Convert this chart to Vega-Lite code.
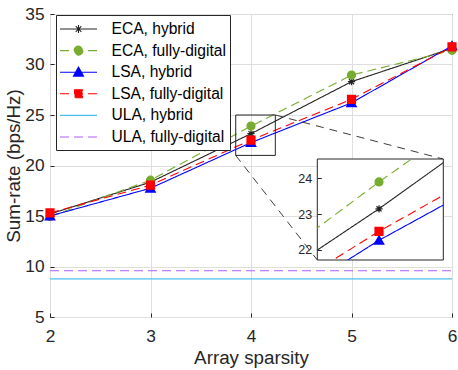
{
  "$schema": "https://vega.github.io/schema/vega-lite/v6.json",
  "width": 402,
  "height": 303,
  "autosize": {"type": "none"},
  "padding": {"left": 50, "top": 14, "right": 6, "bottom": 53},
  "config": {
    "font": "Liberation Sans",
    "view": {"stroke": "#262626", "strokeWidth": 1}
  },
  "datasets": {
    "series": [
      {"series": "ECA, hybrid", "x": 2, "y": 15.2},
      {"series": "ECA, hybrid", "x": 3, "y": 18.35},
      {"series": "ECA, hybrid", "x": 4, "y": 23.15},
      {"series": "ECA, hybrid", "x": 5, "y": 28.3},
      {"series": "ECA, hybrid", "x": 6, "y": 31.6},
      {"series": "ECA, fully-digital", "x": 2, "y": 14.95},
      {"series": "ECA, fully-digital", "x": 3, "y": 18.55},
      {"series": "ECA, fully-digital", "x": 4, "y": 23.9},
      {"series": "ECA, fully-digital", "x": 5, "y": 28.95},
      {"series": "ECA, fully-digital", "x": 6, "y": 31.4},
      {"series": "LSA, hybrid", "x": 2, "y": 15.0},
      {"series": "LSA, hybrid", "x": 3, "y": 17.75},
      {"series": "LSA, hybrid", "x": 4, "y": 22.27},
      {"series": "LSA, hybrid", "x": 5, "y": 26.2},
      {"series": "LSA, hybrid", "x": 6, "y": 31.85},
      {"series": "LSA, fully-digital", "x": 2, "y": 15.3},
      {"series": "LSA, fully-digital", "x": 3, "y": 18.05},
      {"series": "LSA, fully-digital", "x": 4, "y": 22.52},
      {"series": "LSA, fully-digital", "x": 5, "y": 26.55},
      {"series": "LSA, fully-digital", "x": 6, "y": 31.75},
      {"series": "ULA, hybrid", "x": 2, "y": 8.77},
      {"series": "ULA, hybrid", "x": 3, "y": 8.77},
      {"series": "ULA, hybrid", "x": 4, "y": 8.77},
      {"series": "ULA, hybrid", "x": 5, "y": 8.77},
      {"series": "ULA, hybrid", "x": 6, "y": 8.77},
      {"series": "ULA, fully-digital", "x": 2, "y": 9.58},
      {"series": "ULA, fully-digital", "x": 3, "y": 9.58},
      {"series": "ULA, fully-digital", "x": 4, "y": 9.58},
      {"series": "ULA, fully-digital", "x": 5, "y": 9.58},
      {"series": "ULA, fully-digital", "x": 6, "y": 9.58}
    ],
    "inset": [{"x": 3.76, "x2": 4.25, "y": 21.72, "y2": 24.54}],
    "zoombox": [{"x": 3.848, "x2": 4.242, "y": 21.0, "y2": 25.0}],
    "connectors": [
      {"x": 4.242, "y": 25.0, "x2": 5.913, "y2": 20.64},
      {"x": 3.848, "y": 21.0, "x2": 4.66, "y2": 10.64}
    ]
  },
  "layer": [
    {
      "layer": [
        {
          "data": {"name": "series"},
          "mark": {"type": "line"},
          "encoding": {
            "x": {
              "field": "x", "type": "quantitative",
              "scale": {"domain": [2, 6], "nice": false, "zero": false},
              "axis": {
                "values": [2, 3, 4, 5, 6], "format": "d", "title": "Array sparsity", "grid": true, "gridColor": "#dedede",
                "domain": false, "tickSize": -4, "tickColor": "#262626", "labelPadding": 14.7,
                "labelFontSize": 17.3, "labelColor": "#262626", "titleFontSize": 18.8,
                "titleColor": "#262626", "titleFontWeight": "normal", "titlePadding": 3,
                "zindex": 0, "labelFlush": false, "labelOverlap": false
              }
            },
            "y": {
              "field": "y", "type": "quantitative",
              "scale": {"domain": [5, 35], "nice": false, "zero": false},
              "axis": {
                "values": [5, 10, 15, 20, 25, 30, 35], "format": "d", "title": "Sum-rate (bps/Hz)", "grid": true,
                "gridColor": "#dedede", "domain": false, "tickSize": -4, "tickColor": "#262626",
                "labelPadding": 10, "labelFontSize": 17.3, "labelColor": "#262626",
                "titleFontSize": 18.8, "titleColor": "#262626", "titleFontWeight": "normal",
                "titlePadding": 1, "zindex": 0, "labelFlush": false, "labelOverlap": false
              }
            },
            "color": {
              "field": "series", "type": "nominal",
              "scale": {
                "domain": ["ECA, hybrid", "ECA, fully-digital", "LSA, hybrid", "LSA, fully-digital", "ULA, hybrid", "ULA, fully-digital"],
                "range": ["#222222", "#77AC30", "#0000FF", "#FF0000", "#4DBEEE", "#B15CFF"]
              },
              "legend": {
                "title": null, "orient": "none", "legendX": 6, "legendY": 1,
                "strokeColor": "#262626", "fillColor": "white", "padding": 4,
                "symbolSize": 342, "symbolStrokeWidth": 1.5, "symbolOffset": 8.5,
                "labelOffset": 23, "labelFontSize": 15.6, "labelColor": "#000000",
                "labelLimit": 0, "rowPadding": 2.6, "cornerRadius": 0,
                "encode": {
                  "symbols": {
                    "update": {
                      "shape": {"signal": "datum.value === 'ECA, hybrid' ? 'M-2,0H2M0,-0.42V0.42M-0.42,0H0.42M-0.3,-0.3L0.3,0.3M-0.3,0.3L0.3,-0.3' : datum.value === 'ECA, fully-digital' ? 'M-2,0H2M0.49,0A0.49,0.49,0,1,1,-0.49,0A0.49,0.49,0,1,1,0.49,0Z' : datum.value === 'LSA, hybrid' ? 'M-2,0H2M0,-0.55L0.54,0.42L-0.54,0.42Z' : datum.value === 'LSA, fully-digital' ? 'M-2,0H2M-0.43,-0.43H0.43V0.43H-0.43Z' : 'M-2,0H2'"},
                      "fill": {"signal": "indexof(['ECA, hybrid', 'ULA, hybrid', 'ULA, fully-digital'], datum.value) >= 0 ? 'transparent' : scale('color', datum.value)"},
                      "stroke": {"scale": "color", "field": "value"},
                      "strokeDash": {"scale": "strokeDash", "field": "value"},
                      "strokeWidth": {"scale": "strokeWidth", "field": "value"},
                      "opacity": {"value": 1}
                    }
                  }
                }
              }
            },
            "strokeDash": {
              "field": "series", "type": "nominal",
              "scale": {
                "domain": ["ECA, hybrid", "ECA, fully-digital", "LSA, hybrid", "LSA, fully-digital", "ULA, hybrid", "ULA, fully-digital"],
                "range": [[1, 0], [9, 5], [1, 0], [9, 5], [1, 0], [9, 5]]
              },
              "legend": null
            },
            "strokeWidth": {
              "field": "series", "type": "nominal",
              "scale": {
                "domain": ["ECA, hybrid", "ECA, fully-digital", "LSA, hybrid", "LSA, fully-digital", "ULA, hybrid", "ULA, fully-digital"],
                "range": [1.1, 1.1, 1.6, 1.6, 1.1, 1.2]
              },
              "legend": null
            }
          }
        },
        {
          "data": {"name": "series"},
          "transform": [{"filter": "indexof(datum.series, 'ULA') < 0"}],
          "mark": {"type": "point", "opacity": 1, "size": 64, "strokeWidth": 1.2},
          "encoding": {
            "x": {"field": "x", "type": "quantitative"},
            "y": {"field": "y", "type": "quantitative"},
            "shape": {
              "field": "series", "type": "nominal",
              "scale": {
                "domain": ["ECA, hybrid", "ECA, fully-digital", "LSA, hybrid", "LSA, fully-digital"],
                "range": ["M0,-0.9V0.9M-0.9,0H0.9M-0.64,-0.64L0.64,0.64M-0.64,0.64L0.64,-0.64", "circle", "M0,-1.1L1.2,0.95L-1.2,0.95Z", "square"]
              },
              "legend": null
            },
            "stroke": {
              "field": "series", "type": "nominal",
              "scale": {
                "domain": ["ECA, hybrid", "ECA, fully-digital", "LSA, hybrid", "LSA, fully-digital", "ULA, hybrid", "ULA, fully-digital"],
                "range": ["#222222", "#77AC30", "#0000FF", "#FF0000", "#4DBEEE", "#B15CFF"]
              },
              "legend": null
            },
            "fill": {
              "field": "series", "type": "nominal",
              "scale": {
                "domain": ["ECA, hybrid", "ECA, fully-digital", "LSA, hybrid", "LSA, fully-digital", "ULA, hybrid", "ULA, fully-digital"],
                "range": ["transparent", "#77AC30", "#0000FF", "#FF0000", "#4DBEEE", "#B15CFF"]
              },
              "legend": null
            }
          }
        },
        {
          "data": {"name": "zoombox"},
          "mark": {"type": "rect", "fill": "transparent", "stroke": "#262626", "strokeWidth": 1},
          "encoding": {
            "x": {"field": "x", "type": "quantitative"},
            "x2": {"field": "x2"},
            "y": {"field": "y", "type": "quantitative"},
            "y2": {"field": "y2"}
          }
        },
        {
          "data": {"name": "connectors"},
          "mark": {"type": "rule", "color": "#262626", "strokeWidth": 0.9, "strokeDash": [8, 6]},
          "encoding": {
            "x": {"field": "x", "type": "quantitative"},
            "x2": {"field": "x2"},
            "y": {"field": "y", "type": "quantitative"},
            "y2": {"field": "y2"}
          }
        }
      ]
    },
    {
      "layer": [
        {
          "data": {"name": "inset"},
          "mark": {"type": "rect", "fill": "white", "stroke": "#262626", "strokeWidth": 1},
          "encoding": {
            "x": {
              "field": "x", "type": "quantitative",
              "scale": {"domain": [3.76, 4.25], "range": [267.3, 393.3], "nice": false, "zero": false},
              "axis": null
            },
            "x2": {"field": "x2"},
            "y": {
              "field": "y", "type": "quantitative",
              "scale": {"domain": [21.72, 24.54], "range": [246, 145], "nice": false, "zero": false},
              "axis": {
                "orient": "left", "offset": -267.3, "values": [22, 23, 24], "format": "d", "grid": false, "domain": false,
                "tickSize": -4, "tickColor": "#262626", "labelPadding": 9.6, "labelFontSize": 12.5,
                "labelColor": "#262626", "title": null, "zindex": 1, "labelFlush": false, "labelOverlap": false
              }
            },
            "y2": {"field": "y2"}
          }
        },
        {
          "data": {"name": "series"},
          "transform": [{"filter": "datum.x >= 3 && datum.x <= 5 && indexof(datum.series, 'ULA') < 0"}],
          "mark": {"type": "line", "clip": {"signal": "pathShape('M267.3,145H393.3V246H267.3Z')"}},
          "encoding": {
            "x": {"field": "x", "type": "quantitative"},
            "y": {"field": "y", "type": "quantitative"},
            "stroke": {"field": "series", "type": "nominal", "legend": null},
            "strokeDash": {"field": "series", "type": "nominal", "legend": null},
            "strokeWidth": {"field": "series", "type": "nominal", "legend": null}
          }
        },
        {
          "data": {"name": "series"},
          "transform": [{"filter": "datum.x == 4 && indexof(datum.series, 'ULA') < 0"}],
          "mark": {"type": "point", "opacity": 1, "size": 64, "strokeWidth": 1.2},
          "encoding": {
            "x": {"field": "x", "type": "quantitative"},
            "y": {"field": "y", "type": "quantitative"},
            "shape": {"field": "series", "type": "nominal", "legend": null},
            "stroke": {"field": "series", "type": "nominal", "legend": null},
            "fill": {"field": "series", "type": "nominal", "legend": null}
          }
        }
      ]
    }
  ],
  "resolve": {"scale": {"x": "independent", "y": "independent"}}
}
